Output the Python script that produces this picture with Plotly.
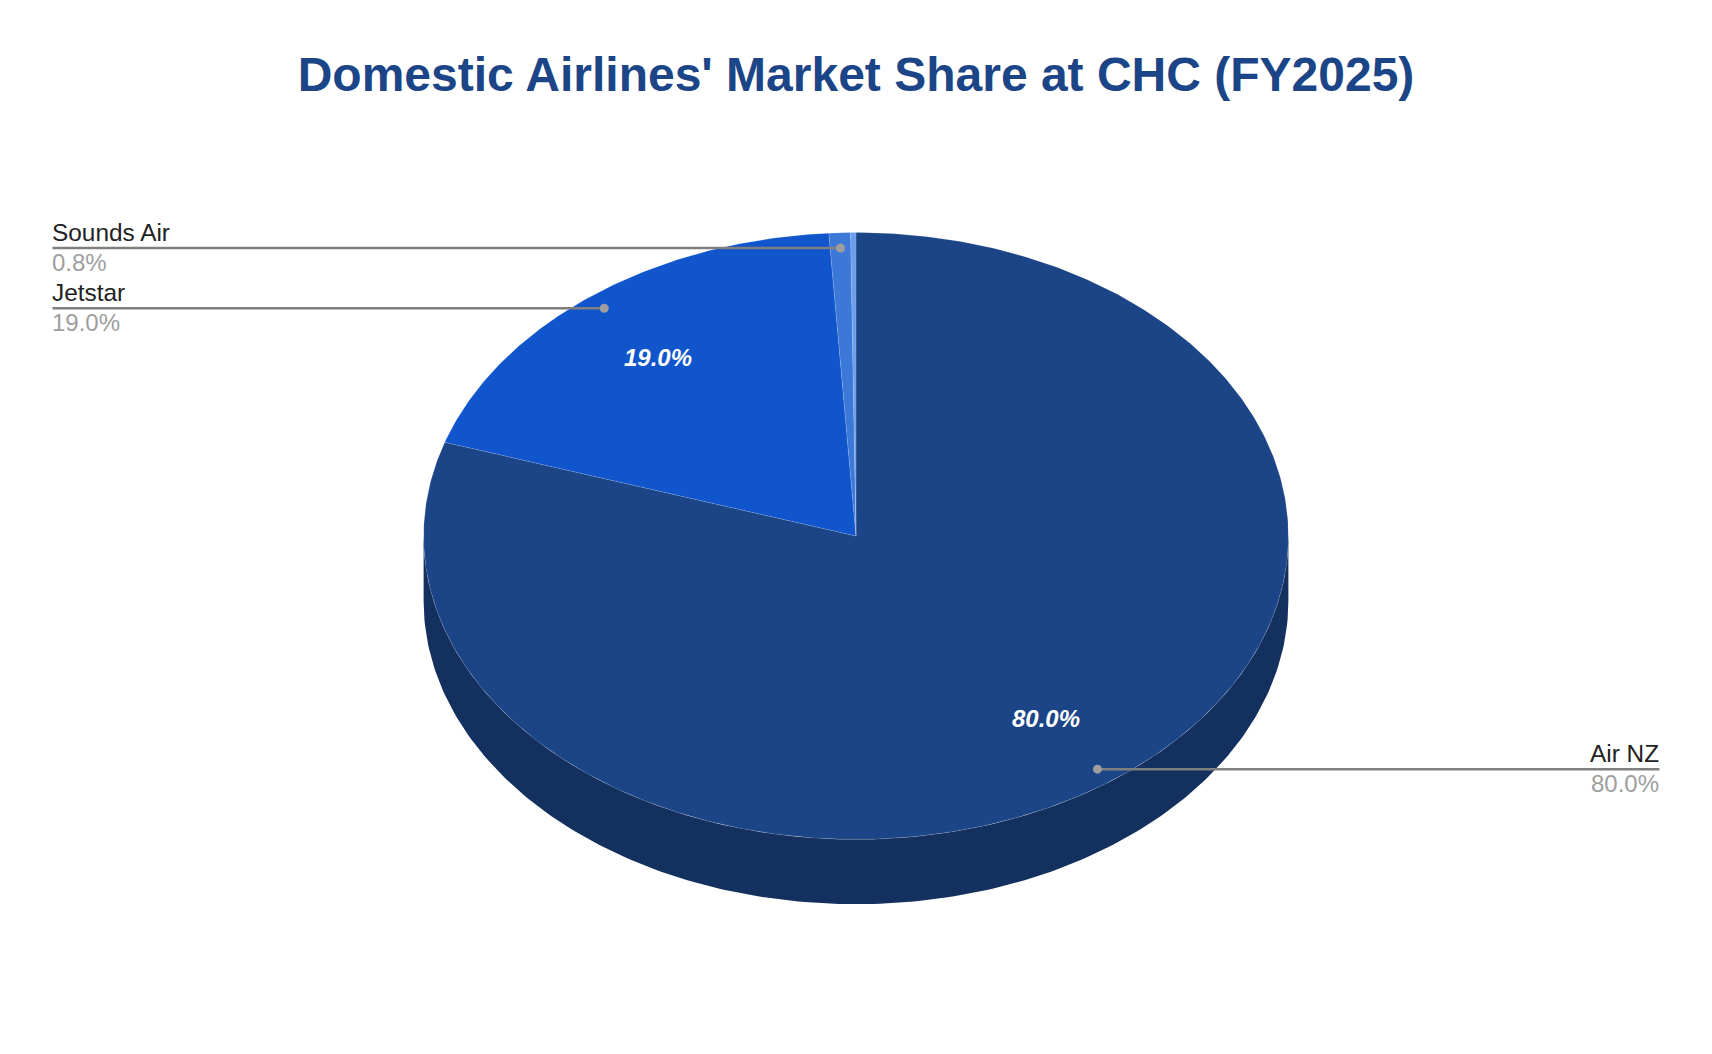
import numpy as np
import plotly.graph_objects as go

# data, last slice has no label in the original
airlines = ["Air NZ", "Jetstar", "Sounds Air", "Other"]
share = [80.0, 19.0, 0.8, 0.2]
slice_colors = ["#1C4587", "#1155CC", "#3C78D8", "#6D9EEB"]
labelled = ["Air NZ", "Jetstar", "Sounds Air"]
inside_labels = ["Air NZ", "Jetstar"]

# chart size and where the pie sits, in pixels
# (page has an 8px body margin so the figure is 16px smaller than the window)
W, H = 1696, 1038
cx, cy = 848, 528
rx, ry = 432.4, 303.4
depth = 64.8 / ry
side_color = "#14305E"

# slice angles clockwise from 12 o'clock
total = sum(share)
ends = np.cumsum(share) / total * 2 * np.pi
starts = ends - np.array(share) / total * 2 * np.pi
mids = dict(zip(airlines, (starts + ends) / 2))


def px_x(p):
    return (p - cx) / rx


fig = go.Figure()

# side wall of the 3d pie, front half only
t = np.linspace(np.pi / 2, 3 * np.pi / 2, 200)
fig.add_trace(go.Scatter(
    x=np.r_[np.sin(t), np.sin(t[::-1])],
    y=np.r_[np.cos(t), np.cos(t[::-1]) - depth],
    mode="lines", fill="toself", fillcolor=side_color,
    line=dict(width=0), hoverinfo="skip", showlegend=False))

# top of the pie
for name, v, a, b, c in zip(airlines, share, starts, ends, slice_colors):
    t = np.linspace(a, b, max(int((b - a) * 100), 4))
    fig.add_trace(go.Scatter(
        x=np.r_[0, np.sin(t), 0],
        y=np.r_[0, np.cos(t), 0],
        mode="lines", fill="toself", fillcolor=c,
        line=dict(width=0.5, color="rgba(255,255,255,0.25)"),
        name=name, text=f"{name}: {v}%", hoverinfo="text", showlegend=False))

# leader lines and labels
for name in labelled:
    m = mids[name]
    v = share[airlines.index(name)]
    x0, y0 = 0.95 * np.sin(m), 0.95 * np.cos(m)
    right = x0 > 0
    x1 = px_x(1651.5) if right else px_x(44.5)
    fig.add_trace(go.Scatter(
        x=[x0, x1], y=[y0, y0], mode="lines",
        line=dict(color="#7F7F7F", width=2.4),
        hoverinfo="skip", showlegend=False))
    fig.add_trace(go.Scatter(
        x=[x0], y=[y0], mode="markers",
        marker=dict(color="#9E9E9E", size=9),
        hoverinfo="skip", showlegend=False))
    anchor = "right" if right else "left"
    shift = 0 if right else -2
    fig.add_annotation(x=x1, y=y0, text=name, showarrow=False, xanchor=anchor,
                       yanchor="bottom", yshift=1, xshift=shift, borderpad=0,
                       font=dict(size=24.4, color="#222222"))
    fig.add_annotation(x=x1, y=y0, text=f"{v:.1f}%", showarrow=False, xanchor=anchor,
                       yanchor="top", yshift=0, xshift=shift, borderpad=0,
                       font=dict(size=24, color="#9E9E9E"))

# percent labels on the big slices
for name in inside_labels:
    m = mids[name]
    v = share[airlines.index(name)]
    fig.add_annotation(x=0.747 * np.sin(m), y=0.745 * np.cos(m),
                       text=f"<b><i>{v:.1f}%</i></b>", showarrow=False,
                       font=dict(size=24, color="#FFFFFF"))

fig.update_layout(
    width=W, height=H,
    margin=dict(l=0, r=0, t=0, b=0),
    paper_bgcolor="#FFFFFF", plot_bgcolor="#FFFFFF",
    font=dict(family="Liberation Sans"),
    title=dict(text="<b>Domestic Airlines' Market Share at CHC (FY2025)</b>",
               x=0.5, xanchor="center", y=1 - 66 / H, yanchor="middle",
               font=dict(size=48, color="#1C4587", family="Liberation Sans")),
    xaxis=dict(range=[px_x(0), px_x(W)], visible=False, fixedrange=True),
    yaxis=dict(range=[(cy - H) / ry, cy / ry], visible=False, fixedrange=True),
)

fig.write_html("out.html")
